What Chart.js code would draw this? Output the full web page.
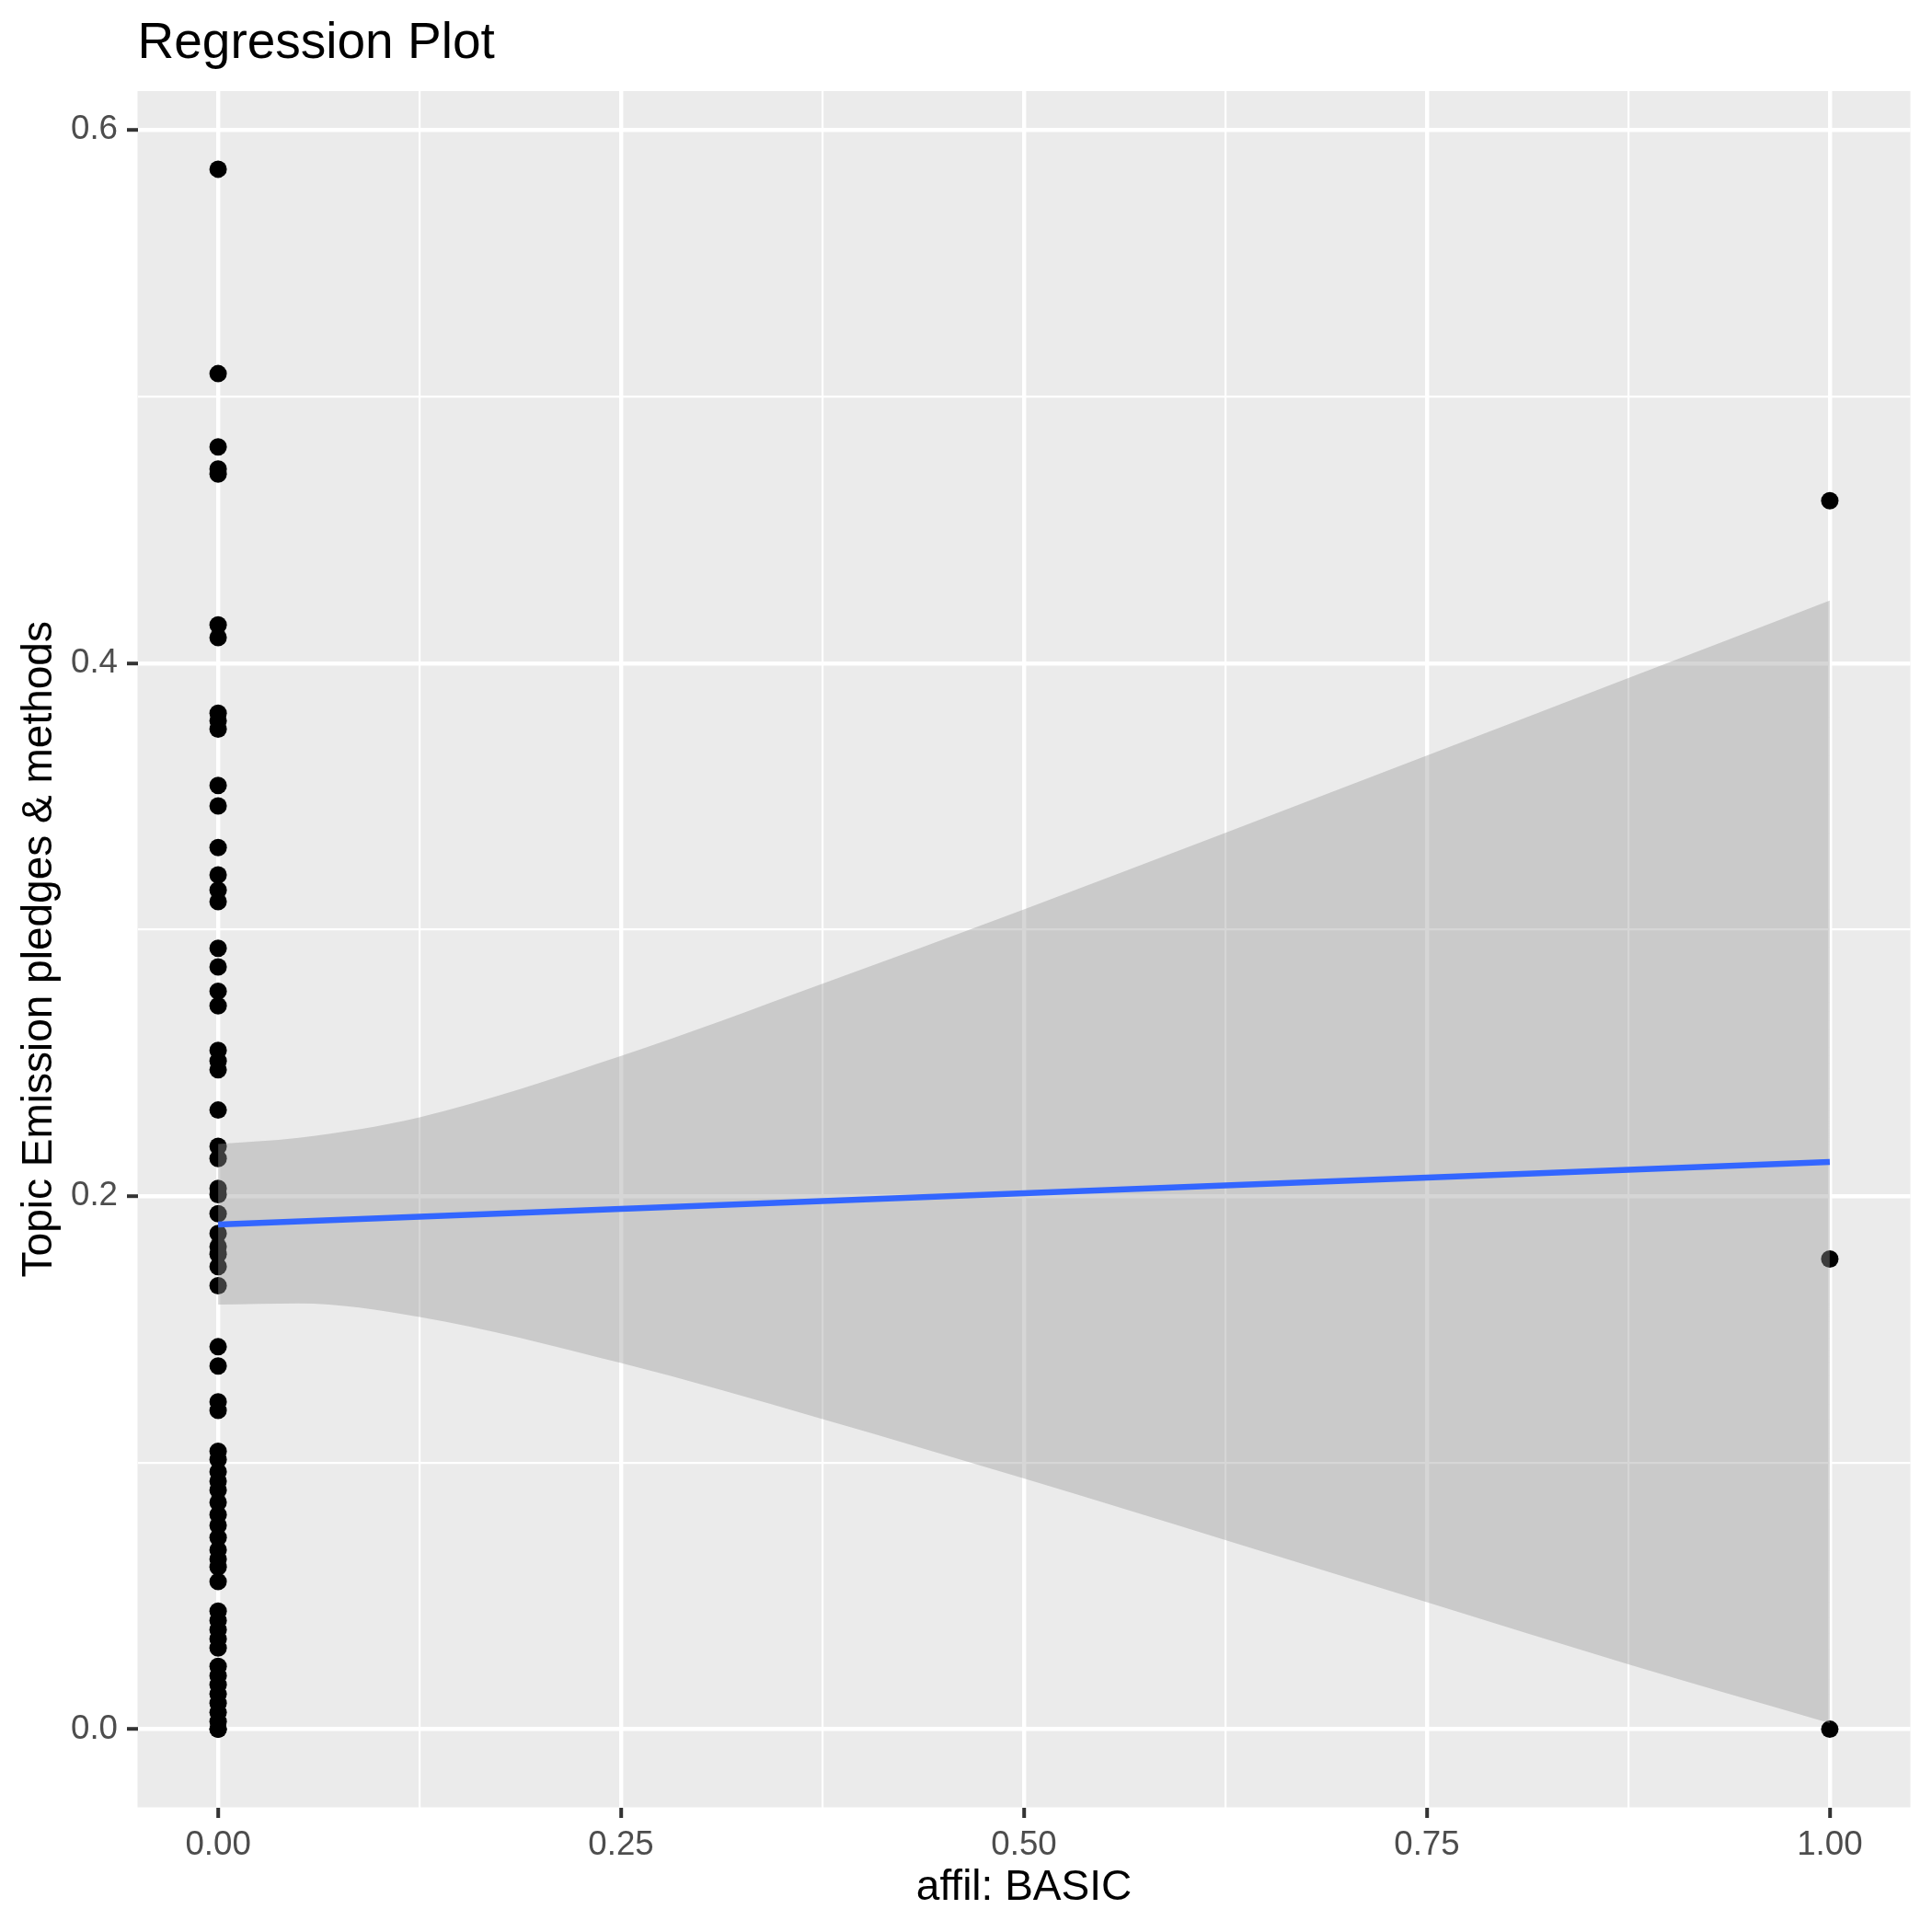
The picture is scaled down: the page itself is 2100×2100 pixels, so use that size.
<!DOCTYPE html>
<html>
<head>
<meta charset="utf-8">
<title>Regression Plot</title>
<script src="https://cdn.jsdelivr.net/npm/chart.js@4/dist/chart.umd.min.js"></script>
<style>
  html, body { margin: 0; padding: 0; background: #fff; }
  canvas { display: block; }
</style>
</head>
<body>
<canvas id="plot" width="2100" height="2100"></canvas>
<script>
// topic proportion for documents with affil BASIC = 0 and = 1
const basicZero = [
  0.5853, 0.5086, 0.4811, 0.4728, 0.4709, 0.4143, 0.4096, 0.3812, 0.3783, 0.3752,
  0.3541, 0.3464, 0.3308, 0.3205, 0.3148, 0.3105, 0.2930, 0.2860, 0.2769, 0.2714,
  0.2547, 0.2507, 0.2474, 0.2323, 0.2187, 0.2141, 0.2029, 0.2006, 0.1934, 0.1860,
  0.1811, 0.1782, 0.1736, 0.1664, 0.1435, 0.1363, 0.1228, 0.1196, 0.1043, 0.1012,
  0.0966, 0.0931, 0.0897, 0.0851, 0.0805, 0.0765, 0.0719, 0.0673, 0.0638, 0.0609,
  0.0554, 0.0443, 0.0408, 0.0373, 0.0339, 0.0305, 0.0236, 0.0201, 0.0167, 0.0132,
  0.0098, 0.0063, 0.0029, 0.0, 0.0
];
const basicOne = [0.4609, 0.1764, 0.0];

// lm fit and its confidence band
const fitX = [0, 1];
const fitY = [0.1894, 0.2128];
const bandX = [0, 0.05, 0.125, 0.25, 0.375, 0.5, 0.625, 0.75, 0.875, 1];
const bandUpper = [0.2196, 0.2219, 0.2296, 0.2526, 0.2797, 0.3076, 0.3363, 0.3653, 0.3944, 0.4235];
const bandLower = [0.1593, 0.1598, 0.1547, 0.1374, 0.1164, 0.0941, 0.0710, 0.0477, 0.0244, 0.0023];

const xBreaks = [0, 0.25, 0.5, 0.75, 1];
const xLabels = ['0.00', '0.25', '0.50', '0.75', '1.00'];
const xMinorBreaks = [0.125, 0.375, 0.625, 0.875];
const yBreaks = [0, 0.2, 0.4, 0.6];
const yLabels = ['0.0', '0.2', '0.4', '0.6'];
const yMinorBreaks = [0.1, 0.3, 0.5];

const titleText = 'Regression Plot';
const xTitle = 'affil: BASIC';
const yTitle = 'Topic Emission pledges & methods';

const FONT = '"Liberation Sans", Arial, Helvetica, sans-serif';
Chart.defaults.font.family = FONT;

const panelBg = {
  id: 'panelBg',
  beforeDraw(chart) {
    const { ctx, chartArea: a } = chart;
    ctx.save();
    ctx.fillStyle = '#EBEBEB';
    ctx.fillRect(a.left, a.top, a.right - a.left, a.bottom - a.top);
    ctx.restore();
  }
};

const ggText = {
  id: 'ggText',
  afterDraw(chart) {
    const { ctx, chartArea: a } = chart;
    ctx.save();
    ctx.fillStyle = '#000';
    ctx.textBaseline = 'alphabetic';

    ctx.font = '55px ' + FONT;
    ctx.textAlign = 'left';
    ctx.fillText(titleText, a.left, 63);

    ctx.font = '46px ' + FONT;
    ctx.textAlign = 'center';
    ctx.fillText(xTitle, (a.left + a.right) / 2, 2065);

    ctx.translate(56, (a.top + a.bottom) / 2);
    ctx.rotate(-Math.PI / 2);
    ctx.fillText(yTitle, 0, 0);
    ctx.restore();
  }
};

const buildTicks = (major, minor) => [...major, ...minor].sort((p, q) => p - q).map((value) => ({ value }));
const labelFor = (major, labels) => (value) => {
  const i = major.findIndex((m) => Math.abs(m - value) < 1e-9);
  return i >= 0 ? labels[i] : '';
};
const isMajor = (major) => (ctx) => major.some((m) => Math.abs(m - ctx.tick.value) < 1e-9);

const points = [
  ...basicZero.map((y) => ({ x: 0, y })),
  ...basicOne.map((y) => ({ x: 1, y }))
];

new Chart(document.getElementById('plot'), {
  type: 'scatter',
  data: {
    datasets: [
      {
        label: 'fit',
        type: 'line',
        data: fitX.map((x, i) => ({ x, y: fitY[i] })),
        borderColor: '#3366FF',
        borderWidth: 6.5,
        pointRadius: 0,
        fill: false,
        order: 1
      },
      {
        label: 'upper',
        type: 'line',
        data: bandX.map((x, i) => ({ x, y: bandUpper[i] })),
        borderWidth: 0,
        borderColor: 'rgba(0,0,0,0)',
        backgroundColor: 'rgba(153,153,153,0.4)',
        pointRadius: 0,
        cubicInterpolationMode: 'monotone',
        fill: '+1',
        order: 2
      },
      {
        label: 'lower',
        type: 'line',
        data: bandX.map((x, i) => ({ x, y: bandLower[i] })),
        borderWidth: 0,
        borderColor: 'rgba(0,0,0,0)',
        pointRadius: 0,
        cubicInterpolationMode: 'monotone',
        fill: false,
        order: 2
      },
      {
        label: 'points',
        data: points,
        backgroundColor: '#000',
        borderWidth: 0,
        pointRadius: 9.5,
        order: 3
      }
    ]
  },
  options: {
    responsive: false,
    devicePixelRatio: 1,
    animation: false,
    layout: { padding: { left: 0, right: 23.5, top: 99, bottom: 0 } },
    plugins: {
      legend: { display: false },
      tooltip: { enabled: false },
      title: { display: false }
    },
    scales: {
      x: {
        type: 'linear',
        min: -0.05,
        max: 1.05,
        afterBuildTicks: (scale) => { scale.ticks = buildTicks(xBreaks, xMinorBreaks); },
        afterFit: (scale) => { scale.height = 135.5; },
        border: { display: false },
        grid: {
          color: '#FFFFFF',
          lineWidth: (ctx) => (isMajor(xBreaks)(ctx) ? 4.4 : 2.2),
          tickColor: (ctx) => (isMajor(xBreaks)(ctx) ? '#333333' : 'rgba(0,0,0,0)'),
          tickLength: 11.5,
          tickWidth: 4
        },
        ticks: {
          autoSkip: false,
          maxRotation: 0,
          padding: 8,
          color: '#4D4D4D',
          font: { size: 36.7 },
          callback: labelFor(xBreaks, xLabels)
        }
      },
      y: {
        type: 'linear',
        min: -0.0293,
        max: 0.6146,
        afterBuildTicks: (scale) => { scale.ticks = buildTicks(yBreaks, yMinorBreaks); },
        afterFit: (scale) => { scale.width = 149.5; },
        border: { display: false },
        grid: {
          color: '#FFFFFF',
          lineWidth: (ctx) => (isMajor(yBreaks)(ctx) ? 4.4 : 2.2),
          tickColor: (ctx) => (isMajor(yBreaks)(ctx) ? '#333333' : 'rgba(0,0,0,0)'),
          tickLength: 11.5,
          tickWidth: 4
        },
        ticks: {
          autoSkip: false,
          padding: 10,
          color: '#4D4D4D',
          font: { size: 36.7 },
          callback: labelFor(yBreaks, yLabels)
        }
      }
    }
  },
  plugins: [panelBg, ggText]
});
</script>
</body>
</html>
